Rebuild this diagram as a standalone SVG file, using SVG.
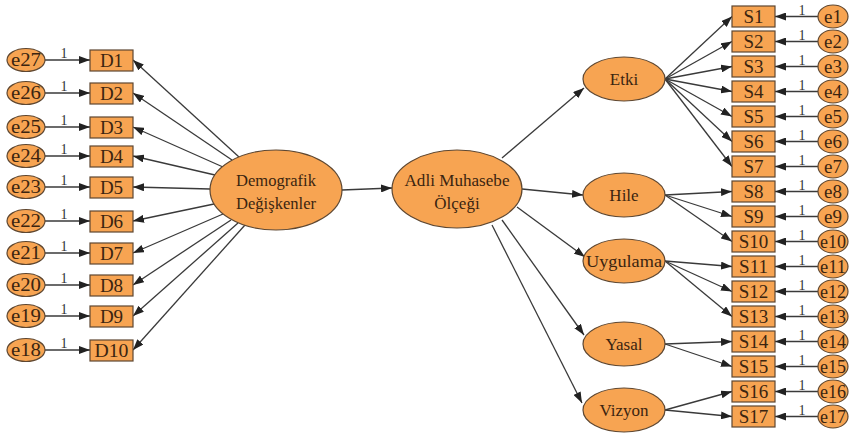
<svg xmlns="http://www.w3.org/2000/svg" width="849" height="440" viewBox="0 0 849 440">
<style>
.n{fill:#F7A452;stroke:#5e4731;stroke-width:1.2}
.c line{stroke:#3a3a3a;stroke-width:1.3;marker-end:url(#ah)}
text{font-family:'Liberation Serif','Times New Roman','DejaVu Serif',serif}
.t{fill:#3b2410;text-anchor:middle;font-size:19px}
.m{font-size:17px}
.one{fill:#333;font-size:14px;text-anchor:middle}
</style>
<defs>
<marker id="ah" markerUnits="userSpaceOnUse" markerWidth="11" markerHeight="8" refX="11" refY="4" orient="auto">
<path d="M0,0 L11,4 L0,8 z" fill="#222"/>
</marker>
</defs>
<rect width="849" height="440" fill="#fff"/>
<g class="c" id="connectors">
<line x1="45" y1="60" x2="90" y2="60"/>
<line x1="45" y1="93" x2="90" y2="93"/>
<line x1="45" y1="127" x2="90" y2="127"/>
<line x1="45" y1="156" x2="90" y2="156"/>
<line x1="45" y1="187" x2="90" y2="187"/>
<line x1="45" y1="221" x2="90" y2="221"/>
<line x1="45" y1="253" x2="90" y2="253"/>
<line x1="45" y1="285" x2="90" y2="285"/>
<line x1="45" y1="316" x2="90" y2="316"/>
<line x1="45" y1="350" x2="90" y2="350"/>
<line x1="239" y1="157" x2="133" y2="60"/>
<line x1="232" y1="160" x2="133" y2="93"/>
<line x1="223" y1="167" x2="133" y2="127"/>
<line x1="215" y1="175" x2="133" y2="156"/>
<line x1="210" y1="189" x2="133" y2="187"/>
<line x1="214" y1="204" x2="133" y2="221"/>
<line x1="223" y1="214" x2="133" y2="253"/>
<line x1="231" y1="220" x2="133" y2="285"/>
<line x1="238" y1="223" x2="133" y2="316"/>
<line x1="245" y1="225" x2="133" y2="350"/>
<line x1="342" y1="190" x2="392" y2="188"/>
<line x1="502" y1="158" x2="584" y2="88"/>
<line x1="522" y1="189" x2="583" y2="195"/>
<line x1="517" y1="207" x2="585" y2="257"/>
<line x1="502" y1="220" x2="584" y2="335"/>
<line x1="492" y1="225" x2="582" y2="403"/>
<line x1="665" y1="79" x2="732" y2="16.5"/>
<line x1="665" y1="79" x2="732" y2="41.5"/>
<line x1="665" y1="79" x2="732" y2="66.5"/>
<line x1="665" y1="79" x2="732" y2="91.5"/>
<line x1="665" y1="79" x2="732" y2="116.5"/>
<line x1="665" y1="79" x2="732" y2="141.5"/>
<line x1="665" y1="79" x2="732" y2="166.5"/>
<line x1="665" y1="195" x2="732" y2="191.5"/>
<line x1="665" y1="195" x2="732" y2="216.5"/>
<line x1="665" y1="195" x2="732" y2="241.5"/>
<line x1="665" y1="261" x2="732" y2="266.5"/>
<line x1="665" y1="261" x2="732" y2="291.5"/>
<line x1="665" y1="261" x2="732" y2="316.5"/>
<line x1="665" y1="344" x2="732" y2="341.5"/>
<line x1="665" y1="344" x2="732" y2="366.5"/>
<line x1="665" y1="410" x2="732" y2="391.5"/>
<line x1="665" y1="410" x2="732" y2="416.5"/>
<line x1="818" y1="16.5" x2="775" y2="16.5"/>
<line x1="818" y1="41.5" x2="775" y2="41.5"/>
<line x1="818" y1="66.5" x2="775" y2="66.5"/>
<line x1="818" y1="91.5" x2="775" y2="91.5"/>
<line x1="818" y1="116.5" x2="775" y2="116.5"/>
<line x1="818" y1="141.5" x2="775" y2="141.5"/>
<line x1="818" y1="166.5" x2="775" y2="166.5"/>
<line x1="818" y1="191.5" x2="775" y2="191.5"/>
<line x1="818" y1="216.5" x2="775" y2="216.5"/>
<line x1="818" y1="241.5" x2="775" y2="241.5"/>
<line x1="818" y1="266.5" x2="775" y2="266.5"/>
<line x1="818" y1="291.5" x2="775" y2="291.5"/>
<line x1="818" y1="316.5" x2="775" y2="316.5"/>
<line x1="818" y1="341.5" x2="775" y2="341.5"/>
<line x1="818" y1="366.5" x2="775" y2="366.5"/>
<line x1="818" y1="391.5" x2="775" y2="391.5"/>
<line x1="818" y1="416.5" x2="775" y2="416.5"/>
</g>
<g id="weights">
<text class="one" x="64" y="58">1</text>
<text class="one" x="64" y="91">1</text>
<text class="one" x="64" y="125">1</text>
<text class="one" x="64" y="154">1</text>
<text class="one" x="64" y="185">1</text>
<text class="one" x="64" y="219">1</text>
<text class="one" x="64" y="251">1</text>
<text class="one" x="64" y="283">1</text>
<text class="one" x="64" y="314">1</text>
<text class="one" x="64" y="348">1</text>
<text class="one" x="802" y="14.5">1</text>
<text class="one" x="802" y="39.5">1</text>
<text class="one" x="802" y="64.5">1</text>
<text class="one" x="802" y="89.5">1</text>
<text class="one" x="802" y="114.5">1</text>
<text class="one" x="802" y="139.5">1</text>
<text class="one" x="802" y="164.5">1</text>
<text class="one" x="802" y="189.5">1</text>
<text class="one" x="802" y="214.5">1</text>
<text class="one" x="802" y="239.5">1</text>
<text class="one" x="802" y="264.5">1</text>
<text class="one" x="802" y="289.5">1</text>
<text class="one" x="802" y="314.5">1</text>
<text class="one" x="802" y="339.5">1</text>
<text class="one" x="802" y="364.5">1</text>
<text class="one" x="802" y="389.5">1</text>
<text class="one" x="802" y="414.5">1</text>
</g>
<g id="e27"><ellipse class="n" cx="26" cy="60" rx="19" ry="11.5"/><text class="t" x="26" y="66" textLength="30" lengthAdjust="spacingAndGlyphs">e27</text></g>
<g id="e26"><ellipse class="n" cx="26" cy="93" rx="19" ry="11.5"/><text class="t" x="26" y="99" textLength="30" lengthAdjust="spacingAndGlyphs">e26</text></g>
<g id="e25"><ellipse class="n" cx="26" cy="127" rx="19" ry="11.5"/><text class="t" x="26" y="133" textLength="30" lengthAdjust="spacingAndGlyphs">e25</text></g>
<g id="e24"><ellipse class="n" cx="26" cy="156" rx="19" ry="11.5"/><text class="t" x="26" y="162" textLength="30" lengthAdjust="spacingAndGlyphs">e24</text></g>
<g id="e23"><ellipse class="n" cx="26" cy="187" rx="19" ry="11.5"/><text class="t" x="26" y="193" textLength="30" lengthAdjust="spacingAndGlyphs">e23</text></g>
<g id="e22"><ellipse class="n" cx="26" cy="221" rx="19" ry="11.5"/><text class="t" x="26" y="227" textLength="30" lengthAdjust="spacingAndGlyphs">e22</text></g>
<g id="e21"><ellipse class="n" cx="26" cy="253" rx="19" ry="11.5"/><text class="t" x="26" y="259" textLength="30" lengthAdjust="spacingAndGlyphs">e21</text></g>
<g id="e20"><ellipse class="n" cx="26" cy="285" rx="19" ry="11.5"/><text class="t" x="26" y="291" textLength="30" lengthAdjust="spacingAndGlyphs">e20</text></g>
<g id="e19"><ellipse class="n" cx="26" cy="316" rx="19" ry="11.5"/><text class="t" x="26" y="322" textLength="30" lengthAdjust="spacingAndGlyphs">e19</text></g>
<g id="e18"><ellipse class="n" cx="26" cy="350" rx="19" ry="11.5"/><text class="t" x="26" y="356" textLength="30" lengthAdjust="spacingAndGlyphs">e18</text></g>
<g id="D1"><rect class="n" x="90" y="50" width="43" height="21"/><text class="t" x="111.5" y="66.5">D1</text></g>
<g id="D2"><rect class="n" x="90" y="83" width="43" height="21"/><text class="t" x="111.5" y="99.5">D2</text></g>
<g id="D3"><rect class="n" x="90" y="117" width="43" height="21"/><text class="t" x="111.5" y="133.5">D3</text></g>
<g id="D4"><rect class="n" x="90" y="146" width="43" height="21"/><text class="t" x="111.5" y="162.5">D4</text></g>
<g id="D5"><rect class="n" x="90" y="177" width="43" height="21"/><text class="t" x="111.5" y="193.5">D5</text></g>
<g id="D6"><rect class="n" x="90" y="211" width="43" height="21"/><text class="t" x="111.5" y="227.5">D6</text></g>
<g id="D7"><rect class="n" x="90" y="243" width="43" height="21"/><text class="t" x="111.5" y="259.5">D7</text></g>
<g id="D8"><rect class="n" x="90" y="275" width="43" height="21"/><text class="t" x="111.5" y="291.5">D8</text></g>
<g id="D9"><rect class="n" x="90" y="306" width="43" height="21"/><text class="t" x="111.5" y="322.5">D9</text></g>
<g id="D10"><rect class="n" x="90" y="340" width="43" height="21"/><text class="t" x="111.5" y="356.5" textLength="34" lengthAdjust="spacingAndGlyphs">D10</text></g>
<g id="demografik"><ellipse class="n" cx="276" cy="190" rx="66" ry="40"/><text class="t m" x="276" y="186" textLength="80" lengthAdjust="spacingAndGlyphs">Demografik</text><text class="t m" x="276" y="209" textLength="80" lengthAdjust="spacingAndGlyphs">Değişkenler</text></g>
<g id="adli"><ellipse class="n" cx="457" cy="189" rx="65" ry="39"/><text class="t m" x="457" y="186" textLength="105" lengthAdjust="spacingAndGlyphs">Adli Muhasebe</text><text class="t m" x="457" y="209">Ölçeği</text></g>
<g id="etki"><ellipse class="n" cx="624" cy="79" rx="41" ry="22"/><text class="t m" x="624" y="85">Etki</text></g>
<g id="hile"><ellipse class="n" cx="624" cy="195" rx="41" ry="22"/><text class="t m" x="624" y="201">Hile</text></g>
<g id="uygulama"><ellipse class="n" cx="624" cy="261" rx="41" ry="22"/><text class="t m" x="624" y="267" textLength="76" lengthAdjust="spacingAndGlyphs">Uygulama</text></g>
<g id="yasal"><ellipse class="n" cx="624" cy="344" rx="41" ry="22"/><text class="t m" x="624" y="350">Yasal</text></g>
<g id="vizyon"><ellipse class="n" cx="624" cy="410" rx="41" ry="22"/><text class="t m" x="624" y="416">Vizyon</text></g>
<g id="S1"><rect class="n" x="732" y="6" width="43" height="21"/><text class="t" x="753.5" y="23">S1</text></g>
<g id="S2"><rect class="n" x="732" y="31" width="43" height="21"/><text class="t" x="753.5" y="48">S2</text></g>
<g id="S3"><rect class="n" x="732" y="56" width="43" height="21"/><text class="t" x="753.5" y="73">S3</text></g>
<g id="S4"><rect class="n" x="732" y="81" width="43" height="21"/><text class="t" x="753.5" y="98">S4</text></g>
<g id="S5"><rect class="n" x="732" y="106" width="43" height="21"/><text class="t" x="753.5" y="123">S5</text></g>
<g id="S6"><rect class="n" x="732" y="131" width="43" height="21"/><text class="t" x="753.5" y="148">S6</text></g>
<g id="S7"><rect class="n" x="732" y="156" width="43" height="21"/><text class="t" x="753.5" y="173">S7</text></g>
<g id="S8"><rect class="n" x="732" y="181" width="43" height="21"/><text class="t" x="753.5" y="198">S8</text></g>
<g id="S9"><rect class="n" x="732" y="206" width="43" height="21"/><text class="t" x="753.5" y="223">S9</text></g>
<g id="S10"><rect class="n" x="732" y="231" width="43" height="21"/><text class="t" x="753.5" y="248">S10</text></g>
<g id="S11"><rect class="n" x="732" y="256" width="43" height="21"/><text class="t" x="753.5" y="273">S11</text></g>
<g id="S12"><rect class="n" x="732" y="281" width="43" height="21"/><text class="t" x="753.5" y="298">S12</text></g>
<g id="S13"><rect class="n" x="732" y="306" width="43" height="21"/><text class="t" x="753.5" y="323">S13</text></g>
<g id="S14"><rect class="n" x="732" y="331" width="43" height="21"/><text class="t" x="753.5" y="348">S14</text></g>
<g id="S15"><rect class="n" x="732" y="356" width="43" height="21"/><text class="t" x="753.5" y="373">S15</text></g>
<g id="S16"><rect class="n" x="732" y="381" width="43" height="21"/><text class="t" x="753.5" y="398">S16</text></g>
<g id="S17"><rect class="n" x="732" y="406" width="43" height="21"/><text class="t" x="753.5" y="423">S17</text></g>
<g id="e1"><ellipse class="n" cx="833" cy="16.5" rx="15" ry="11.5"/><text class="t" x="833" y="22.5">e1</text></g>
<g id="e2"><ellipse class="n" cx="833" cy="41.5" rx="15" ry="11.5"/><text class="t" x="833" y="47.5">e2</text></g>
<g id="e3"><ellipse class="n" cx="833" cy="66.5" rx="15" ry="11.5"/><text class="t" x="833" y="72.5">e3</text></g>
<g id="e4"><ellipse class="n" cx="833" cy="91.5" rx="15" ry="11.5"/><text class="t" x="833" y="97.5">e4</text></g>
<g id="e5"><ellipse class="n" cx="833" cy="116.5" rx="15" ry="11.5"/><text class="t" x="833" y="122.5">e5</text></g>
<g id="e6"><ellipse class="n" cx="833" cy="141.5" rx="15" ry="11.5"/><text class="t" x="833" y="147.5">e6</text></g>
<g id="e7"><ellipse class="n" cx="833" cy="166.5" rx="15" ry="11.5"/><text class="t" x="833" y="172.5">e7</text></g>
<g id="e8"><ellipse class="n" cx="833" cy="191.5" rx="15" ry="11.5"/><text class="t" x="833" y="197.5">e8</text></g>
<g id="e9"><ellipse class="n" cx="833" cy="216.5" rx="15" ry="11.5"/><text class="t" x="833" y="222.5">e9</text></g>
<g id="e10"><ellipse class="n" cx="833" cy="241.5" rx="15" ry="11.5"/><text class="t" x="833" y="247.5" textLength="26" lengthAdjust="spacingAndGlyphs">e10</text></g>
<g id="e11"><ellipse class="n" cx="833" cy="266.5" rx="15" ry="11.5"/><text class="t" x="833" y="272.5" textLength="26" lengthAdjust="spacingAndGlyphs">e11</text></g>
<g id="e12"><ellipse class="n" cx="833" cy="291.5" rx="15" ry="11.5"/><text class="t" x="833" y="297.5" textLength="26" lengthAdjust="spacingAndGlyphs">e12</text></g>
<g id="e13"><ellipse class="n" cx="833" cy="316.5" rx="15" ry="11.5"/><text class="t" x="833" y="322.5" textLength="26" lengthAdjust="spacingAndGlyphs">e13</text></g>
<g id="e14"><ellipse class="n" cx="833" cy="341.5" rx="15" ry="11.5"/><text class="t" x="833" y="347.5" textLength="26" lengthAdjust="spacingAndGlyphs">e14</text></g>
<g id="e15"><ellipse class="n" cx="833" cy="366.5" rx="15" ry="11.5"/><text class="t" x="833" y="372.5" textLength="26" lengthAdjust="spacingAndGlyphs">e15</text></g>
<g id="e16"><ellipse class="n" cx="833" cy="391.5" rx="15" ry="11.5"/><text class="t" x="833" y="397.5" textLength="26" lengthAdjust="spacingAndGlyphs">e16</text></g>
<g id="e17"><ellipse class="n" cx="833" cy="416.5" rx="15" ry="11.5"/><text class="t" x="833" y="422.5" textLength="26" lengthAdjust="spacingAndGlyphs">e17</text></g>
</svg>
